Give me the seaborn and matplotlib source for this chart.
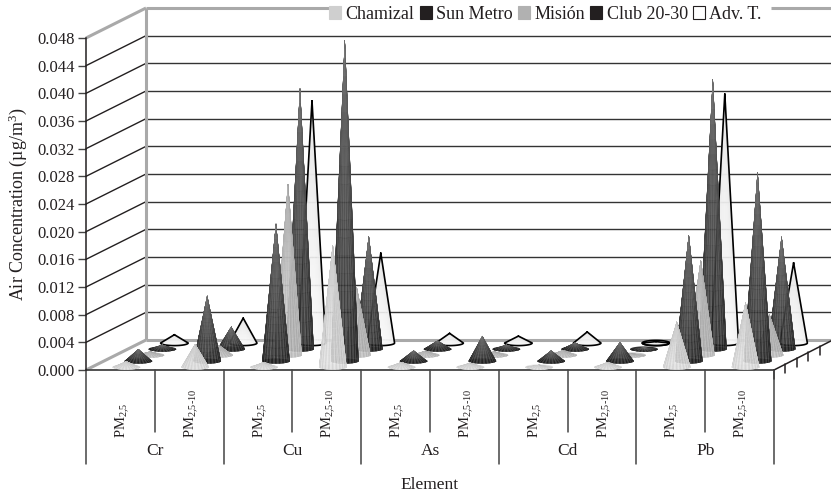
import numpy as np
import pandas as pd
import matplotlib
matplotlib.use("Agg")
import matplotlib.pyplot as plt
from matplotlib.collections import PolyCollection
from matplotlib.patches import Patch
from matplotlib.transforms import ScaledTranslation
import seaborn as sns

ELEMENTS = ["Cr", "Cu", "As", "Cd", "Pb"]
FRACTIONS = ["PM$_{2{,}5}$", "PM$_{2{,}5\\text{-}10}$"]
SITES = ["Chamizal", "Sun Metro", "Misión", "Club 20-30", "Adv. T."]

# values per site, order Cr 2.5, Cr 2.5-10, Cu 2.5, Cu 2.5-10 ...
CHAMIZAL = [0.0008, 0.0033, 0.0007, 0.0176, 0.0007, 0.0006, 0.0003, 0.0007, 0.0065, 0.0093]
SUN_METRO = [0.0017, 0.0094, 0.0198, 0.0463, 0.0015, 0.0036, 0.0015, 0.0027, 0.0182, 0.0273]
MISION = [0.0005, 0.0014, 0.0247, 0.0097, 0.0006, 0.0005, 0.0007, 0.0002, 0.0137, 0.0058]
CLUB = [0.0006, 0.0032, 0.0376, 0.0163, 0.0012, 0.0006, 0.0009, 0.0002, 0.0390, 0.0162]
ADV = [0.0012, 0.0036, 0.0350, 0.0130, 0.0014, 0.0010, 0.0016, 0.0002, 0.0360, 0.0116]

SITE_COLORS = ["#cfcfcf", "#231f20", "#b1b1b1", "#231f20", "#ffffff"]
INK = "#231f20"
WALL = "#a9a9a9"

# tip grey, base grey, stripe strength
SHADES = [(0.80, 0.88, 0.05), (0.50, 0.20, 0.10), (0.70, 0.78, 0.06), (0.50, 0.20, 0.10), (0.90, 0.98, 0.0)]

# depth of the 3D box, in axis units
DEPTH_X = 60 / 68.8
DEPTH_Y = 0.004 * 30 / 27.67
PX = 0.004 / 27.67  # value per pixel
PX_X = 1 / 68.8  # category per pixel


def draw_cone(ax, x0, base, height, width, shade, outline, zorder):
    half_w = width / 2
    half_h = 2.6 * PX
    tip, low, stripe = shade
    rim_t = np.linspace(np.pi, 2 * np.pi, 57)
    rim = np.column_stack([x0 + half_w * np.cos(rim_t), base + half_h * np.sin(rim_t)])
    apex = np.array([x0, base + height])
    fracs = np.linspace(0, 1, 19)

    polys, colors = [], []
    for i in range(len(rim) - 1):
        u = i / (len(rim) - 2)
        side = abs(2 * u - 1)
        wave = np.cos(2 * np.pi * u * 11)
        for s0, s1 in zip(fracs[:-1], fracs[1:]):
            p = [apex + s0 * (rim[i] - apex), apex + s1 * (rim[i] - apex),
                 apex + s1 * (rim[i + 1] - apex), apex + s0 * (rim[i + 1] - apex)]
            s = (s0 + s1) / 2
            g = tip + (low - tip) * s ** 0.7 + stripe * wave * s - 0.06 * side ** 2
            polys.append(p)
            colors.append((float(np.clip(g, 0, 1)),) * 3)

    # full base ellipse so that the flat cones still look like a disc
    t = np.linspace(0, 2 * np.pi, 60)
    ax.fill(x0 + half_w * np.cos(t), base + half_h * np.sin(t),
            color=(low,) * 3, lw=0, zorder=zorder, clip_on=False)
    ax.add_collection(PolyCollection(polys, facecolors=colors, edgecolors=colors, linewidths=0.15,
                                     zorder=zorder, clip_on=False), autolim=False)
    if outline:
        line = np.vstack([apex, rim, apex])
        ax.plot(line[:, 0], line[:, 1], color="black", lw=1.2, zorder=zorder, clip_on=False)
        if height < 2 * half_h:
            ax.plot(x0 + half_w * np.cos(t), base + half_h * np.sin(t), color="black",
                    lw=1.2, zorder=zorder, clip_on=False)


sns.set_theme(style="white")
plt.rcParams["font.family"] = ["Liberation Serif", "DejaVu Serif"]
plt.rcParams["mathtext.fontset"] = "custom"
plt.rcParams["mathtext.rm"] = "Liberation Serif"
plt.rcParams["mathtext.default"] = "regular"
plt.rcParams["text.color"] = INK
plt.rcParams["axes.labelcolor"] = INK
plt.rcParams["xtick.color"] = INK
plt.rcParams["ytick.color"] = INK

categories = [f"{e} {f}" for e in ELEMENTS for f in FRACTIONS]
tick_labels = [f for e in ELEMENTS for f in FRACTIONS]
df = pd.DataFrame({
    "category": categories * 5,
    "site": np.repeat(SITES, 10),
    "value": CHAMIZAL + SUN_METRO + MISION + CLUB + ADV,
})

fig = plt.figure(figsize=(8.31, 4.97), dpi=100)
ax = fig.add_axes([86 / 831, 1 - 370 / 497, (774 - 86) / 831, (370 - 38) / 497])

sns.barplot(data=df, x="category", y="value", hue="site", hue_order=SITES, order=categories,
            palette=SITE_COLORS, dodge=False, width=0.4, errorbar=None, legend=False, ax=ax)

ax.set_xlim(-0.5, 9.5)
ax.set_ylim(0, 0.048)
ax.patch.set_alpha(0)
sns.despine(ax=ax, top=True, right=True, bottom=True, left=False)
ax.spines["left"].set_color(INK)
ax.spines["left"].set_linewidth(1.1)

y_ticks = np.arange(0, 0.0481, 0.004)
ax.set_yticks(y_ticks)
ax.set_yticklabels([f"{v:.3f}" for v in y_ticks], fontsize=12)
ax.tick_params(axis="y", left=True, length=6, width=1, pad=2, color="#444444")
ax.set_ylabel("Air Concentration (µg/m$^{3}$)", fontsize=13, labelpad=6)

ax.set_xticks(range(10))
ax.set_xticklabels(tick_labels, rotation=90, va="bottom", fontsize=10.5)
ax.tick_params(axis="x", bottom=False, length=0, pad=49)
ax.set_xlabel("")
shift = ScaledTranslation(2.5 / 100, 0, fig.dpi_scale_trans)
for label in ax.get_xticklabels():
    label.set_transform(label.get_transform() + shift)

# box: back wall, left wall, floor
x_back = -0.5 + DEPTH_X
x_end = 9.5 + 57 * PX_X
for v in y_ticks[:-1]:
    if v > 0:
        ax.plot([x_back, x_end], [v + DEPTH_Y] * 2, color="#333333", lw=1, zorder=1, clip_on=False)
        ax.plot([-0.5, x_back], [v, v + DEPTH_Y], color=INK, lw=1, zorder=1, clip_on=False)
top = 0.048 + DEPTH_Y
wall = dict(color=WALL, lw=2.2, zorder=1.5, clip_on=False, solid_capstyle="butt")
ax.plot([x_back, x_back], [DEPTH_Y, top], **wall)
ax.plot([-0.5, x_back], [0, DEPTH_Y], **wall)
ax.plot([-0.5, x_back], [0.048, top], **wall)
ax.plot([x_back, x_end], [DEPTH_Y, DEPTH_Y], **wall)
# top edge is broken by the legend
ax.plot([x_back, -0.5 + (330 - 86) * PX_X], [top, top], **wall)
ax.plot([-0.5 + (771 - 86) * PX_X, x_end], [top, top], **wall)

# floor edges and depth ticks
ax.plot([-0.5, 9.5], [0, 0], color="#444444", lw=1.3, zorder=1.6, clip_on=False)
ax.plot([9.5, x_end], [0, DEPTH_Y * 0.97], color=INK, lw=1.1, zorder=1.6, clip_on=False)
for d in [0, 0.2, 0.4, 0.6, 0.8]:
    ax.plot([9.5 + d * 57 * PX_X] * 2, [d * DEPTH_Y, d * DEPTH_Y - 9 * PX], color=INK, lw=1.1,
            zorder=1.6, clip_on=False)

# category separators under the floor
for i in range(11):
    low = 94 if i % 2 == 0 else 62
    ax.plot([i - 0.5] * 2, [0, -low * PX], color="#444444", lw=1.1, clip_on=False)
for i, element in enumerate(ELEMENTS):
    ax.text(2 * i + 0.5, -81 * PX, element, ha="center", va="center", fontsize=12.5)
ax.text(4.5, -115 * PX, "Element", ha="center", va="center", fontsize=12.5)

# swap every bar for a cone, back row first
for k in range(len(SITES) - 1, -1, -1):
    d = (k + 0.5) / len(SITES)
    for bar in ax.containers[k]:
        x0 = bar.get_x() + bar.get_width() / 2 + DEPTH_X * d
        draw_cone(ax, x0, DEPTH_Y * d, bar.get_height(), bar.get_width(), SHADES[k],
                  outline=k == 4, zorder=10 - k)
        bar.set_visible(False)

handles = [Patch(facecolor=c, edgecolor="#231f20" if c == "#ffffff" else c, lw=0.8) for c in SITE_COLORS]
leg = fig.legend(handles, SITES, ncol=5, loc="center", bbox_to_anchor=(545.5 / 831, 1 - 14.5 / 497),
                 fontsize=13, frameon=False, handlelength=0.65, handleheight=0.75,
                 handletextpad=0.25, columnspacing=0.3, borderpad=0, borderaxespad=0)
leg.set_zorder(20)

fig.savefig("out.png", dpi=100, facecolor="white")
